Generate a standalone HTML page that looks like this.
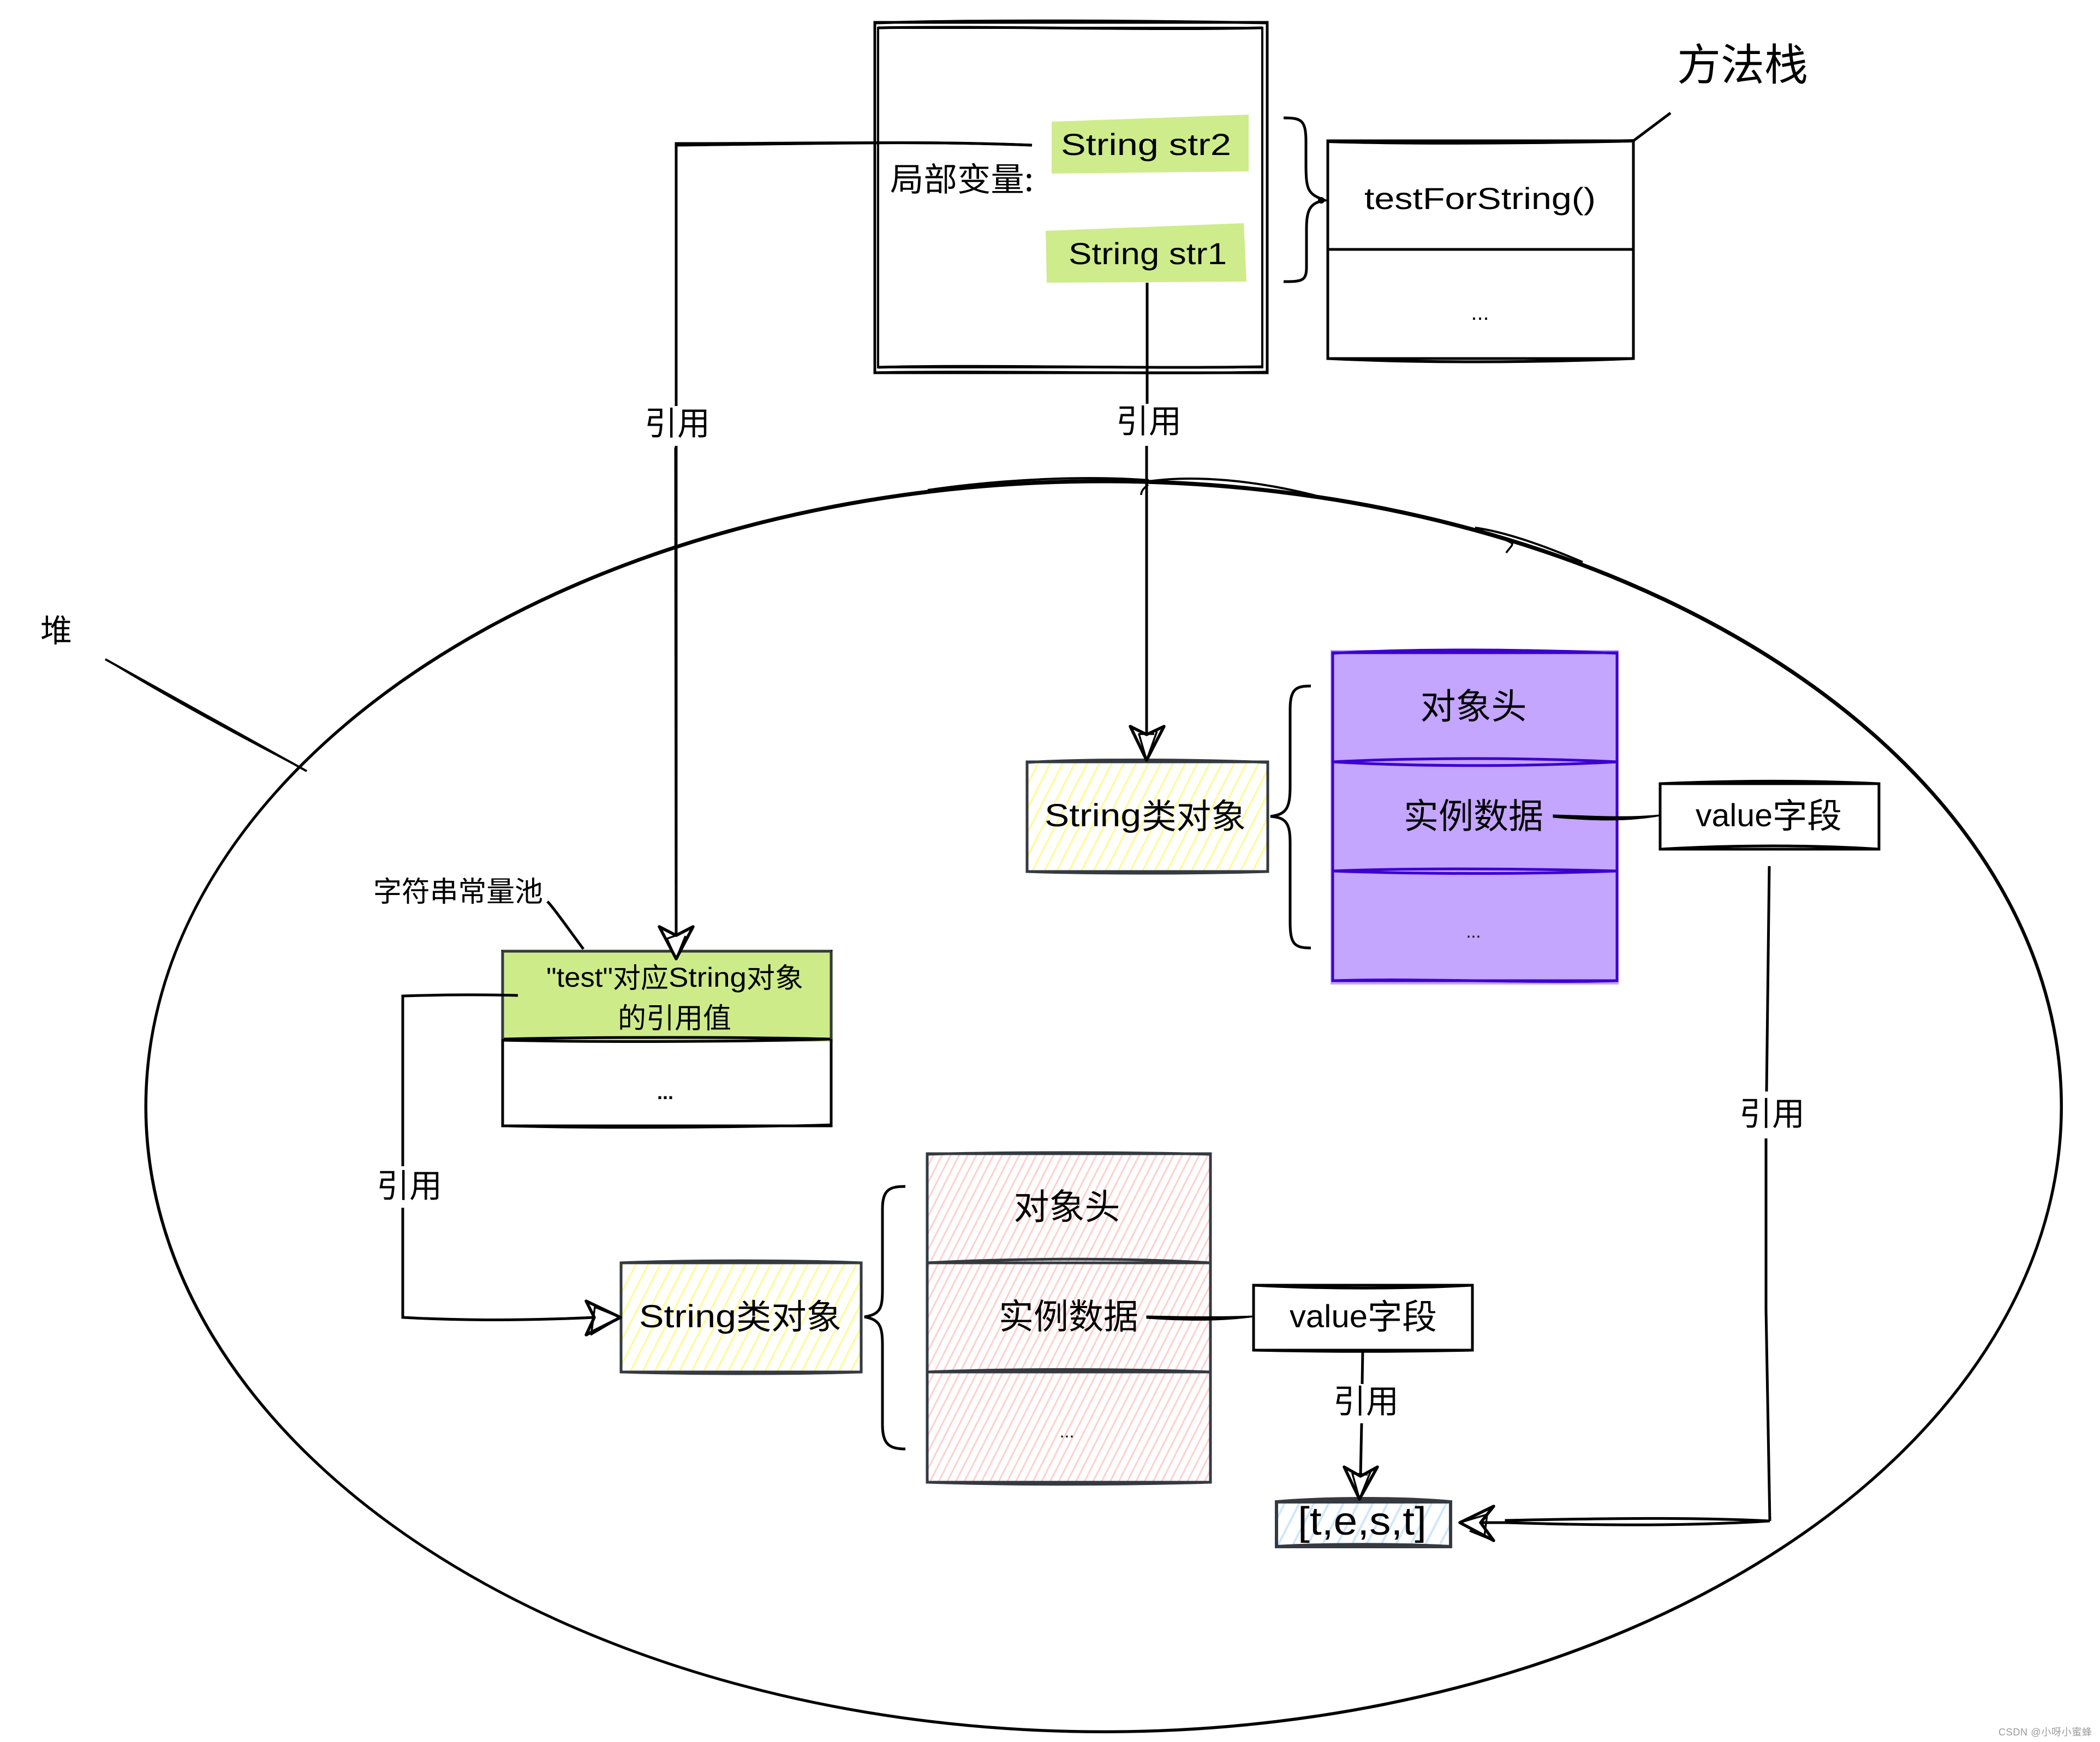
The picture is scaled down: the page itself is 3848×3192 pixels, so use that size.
<!DOCTYPE html>
<html><head><meta charset="utf-8"><style>
html,body{margin:0;padding:0;background:#fff}
svg{display:block}
.l{font-family:"Liberation Sans",sans-serif;fill:#000}
.c{font-family:"Noto Sans CJK SC","WenQuanYi Zen Hei",sans-serif;fill:#000}
</style></head><body>
<svg xmlns="http://www.w3.org/2000/svg" width="3848" height="3192" viewBox="0 0 3848 3192">
<defs>
<pattern id="hy" width="20" height="20" patternUnits="userSpaceOnUse" patternTransform="rotate(27)"><rect width="20" height="20" fill="#fff"/><line x1="10" y1="0" x2="10" y2="20" stroke="#fffa90" stroke-width="3"/></pattern>
<pattern id="hp" width="14" height="14" patternUnits="userSpaceOnUse" patternTransform="rotate(27)"><rect width="14" height="14" fill="#fff"/><line x1="7" y1="0" x2="7" y2="14" stroke="#ffcfcf" stroke-width="3"/></pattern>
<pattern id="hb" width="24" height="24" patternUnits="userSpaceOnUse" patternTransform="rotate(27)"><rect width="24" height="24" fill="#fff"/><line x1="12" y1="0" x2="12" y2="24" stroke="#cfe6fb" stroke-width="4"/></pattern>
</defs>
<rect width="3848" height="3192" fill="#fff"/>

<!-- heap ellipse -->
<g fill="none" stroke="#000">
<ellipse cx="2022" cy="2028" rx="1755" ry="1145" stroke-width="5"/>
<ellipse cx="2023" cy="2027" rx="1755" ry="1147" stroke-width="4"/>
<path d="M1700 898C1850 876 2000 872 2105 880" stroke-width="4"/>
<path d="M2105 882C2190 870 2300 880 2410 908" stroke-width="4"/>
<path d="M2703 967C2760 975 2830 1000 2900 1030" stroke-width="4"/>
<path d="M2703 967C2730 980 2760 988 2771 996C2772 1000 2765 1005 2760 1013" stroke-width="3.5"/>
<path d="M2104 888C2095 895 2091 900 2091 907" stroke-width="3.5"/>
</g>
<path d="M193 1208C300 1272 430 1340 562 1413C440 1350 310 1280 193 1208Z" fill="#000" stroke="#000" stroke-width="2"/>
<path d="M193 1208L562 1413" stroke="#000" stroke-width="4" fill="none"/>
<text class="c" x="103" y="1176" font-size="58" text-anchor="middle">堆</text>

<!-- method frame -->
<g fill="none" stroke="#000">
<rect x="1603" y="41" width="719" height="642" stroke-width="5"/>
<rect x="1609" y="51" width="704" height="622" stroke-width="4"/>
<path d="M1603 42C1800 36 2100 38 2322 42" stroke-width="5"/>
<path d="M1609 51C1800 47 2100 56 2313 51" stroke-width="5"/>
<path d="M1609 673C1800 668 2100 676 2313 672" stroke-width="5"/>
<path d="M1603 683C1800 679 2100 686 2322 682" stroke-width="5"/>
</g>
<polygon points="1927,223 2288,210 2288,314 1927,318" fill="#ceec8b"/>
<polygon points="1916,423 2279,409 2284,516 1918,518" fill="#ceec8b"/>
<text class="l" x="1944" y="284" font-size="56" textLength="312" lengthAdjust="spacingAndGlyphs">String str2</text>
<text class="l" x="1958" y="484" font-size="56" textLength="290" lengthAdjust="spacingAndGlyphs">String str1</text>
<text class="c" x="1631" y="350" font-size="60" textLength="263" lengthAdjust="spacingAndGlyphs">局部变量:</text>

<!-- method stack -->
<g fill="none" stroke="#000">
<rect x="2433" y="258" width="560" height="399" stroke-width="5"/>
<path d="M2433 457L2993 457" stroke-width="5"/>
<path d="M2433 259C2600 264 2800 262 2993 258" stroke-width="6"/>
<path d="M2433 657C2600 665 2800 665 2993 657" stroke-width="5"/>
<path d="M2352 216C2385 216 2393 220 2393 260L2393 300C2393 350 2397 355 2427 367C2400 372 2394 385 2394 420L2394 490C2394 515 2385 516 2352 516" stroke-width="5"/>
<path d="M3061 207L2993 258" stroke-width="5"/>
</g>
<circle cx="2421" cy="367" r="6"/>
<text class="l" x="2500" y="383" font-size="56" textLength="424" lengthAdjust="spacingAndGlyphs">testForString()</text>
<text class="l" x="2712" y="586" font-size="40" text-anchor="middle">...</text>
<text class="c" x="3193" y="147" font-size="80" text-anchor="middle">方法栈</text>

<!-- connectors top -->
<g fill="none" stroke="#000">
<path d="M1891 266C1700 258 1500 263 1239 263L1239 744M1239 817L1239 1714" stroke-width="5"/>
<path d="M1891 266C1700 258 1500 263 1239 266" stroke-width="5"/>
<path d="M1237 820L1238 1714" stroke-width="3"/>
<path d="M2102 518L2102 740M2101 817L2101 1346" stroke-width="5"/>
</g>
<text class="c" x="1241" y="797" font-size="60" text-anchor="middle">引用</text>
<text class="c" x="2105" y="793" font-size="60" text-anchor="middle">引用</text>

<!-- String object 1 -->
<rect x="1882" y="1396" width="441" height="201" fill="url(#hy)" stroke="#343a40" stroke-width="5"/>
<path d="M1882 1397C2000 1390 2200 1392 2323 1397M1882 1597C2000 1601 2200 1601 2323 1597" fill="none" stroke="#343a40" stroke-width="5"/>
<text class="l" x="1914" y="1514" font-size="58" textLength="177" lengthAdjust="spacingAndGlyphs">String</text>
<text class="c" x="2092" y="1518" font-size="63" textLength="191" lengthAdjust="spacingAndGlyphs">类对象</text>
<path d="M2402 1257C2375 1257 2364 1262 2364 1300L2364 1440C2364 1480 2358 1492 2328 1496C2358 1498 2364 1510 2364 1545L2364 1690C2364 1730 2372 1737 2402 1737" fill="none" stroke="#000" stroke-width="5"/>

<!-- purple -->
<rect x="2438" y="1191" width="528" height="613" fill="#c4a5ff"/>
<g fill="none" stroke="#3b00d0">
<rect x="2442" y="1196" width="521" height="601" stroke-width="5"/>
<path d="M2442 1197C2600 1188 2800 1190 2963 1197" stroke-width="5"/>
<path d="M2442 1396C2600 1388 2800 1388 2963 1396M2442 1396C2600 1405 2800 1405 2963 1396" stroke-width="5"/>
<path d="M2442 1596C2600 1590 2800 1592 2963 1596M2442 1596C2600 1602 2800 1602 2963 1596" stroke-width="5"/>
<path d="M2442 1797C2600 1792 2800 1802 2963 1797" stroke-width="5"/>
</g>
<text class="c" x="2700" y="1317" font-size="65" text-anchor="middle">对象头</text>
<text class="c" x="2700" y="1518" font-size="64" text-anchor="middle">实例数据</text>
<text class="l" x="2700" y="1718" font-size="32" text-anchor="middle">...</text>
<path d="M2847 1494C2920 1496 2980 1500 3042 1494C2980 1505 2920 1503 2847 1497Z" fill="#000" stroke="#000" stroke-width="3"/>

<rect x="3042" y="1436" width="401" height="120" fill="#fff" stroke="#000" stroke-width="5"/>
<path d="M3042 1436C3180 1430 3320 1430 3443 1436M3042 1556C3180 1548 3320 1548 3443 1556" fill="none" stroke="#000" stroke-width="5"/>
<text class="l" x="3107" y="1514" font-size="58" textLength="141" lengthAdjust="spacingAndGlyphs">value</text>
<text class="c" x="3248" y="1517" font-size="63" textLength="127" lengthAdjust="spacingAndGlyphs">字段</text>

<path d="M3242 1587L3237 2000M3236 2086L3236 2400L3243 2787" fill="none" stroke="#000" stroke-width="5"/>
<text class="c" x="3247" y="2062" font-size="60" text-anchor="middle">引用</text>
<path d="M3243 2787C3100 2780 2950 2782 2760 2786L2760 2790L2713 2790" fill="none" stroke="#000" stroke-width="5"/>
<path d="M3243 2787C3100 2796 2950 2796 2760 2790" fill="none" stroke="#000" stroke-width="5"/>

<!-- string pool -->
<text class="c" x="684" y="1652" font-size="52" textLength="311">字符串常量池</text>
<path d="M1003 1652C1012 1660 1040 1700 1069 1739" fill="none" stroke="#000" stroke-width="5"/>
<rect x="918" y="1740" width="608" height="169" fill="#ceeb8a"/>
<g fill="none" stroke="#000">
<rect x="921" y="1743" width="602" height="320" stroke-width="5"/>
<path d="M921 1904C1100 1900 1350 1900 1523 1904M921 1906C1100 1910 1350 1909 1523 1904" stroke-width="5"/>
<path d="M921 2063C1100 2068 1350 2066 1523 2061" stroke-width="4.5"/>
</g>
<path d="M921 1743L921 1904M1523 1743L1523 1904M921 1743L1523 1743" fill="none" stroke="#343a40" stroke-width="5"/>
<text class="l" x="1001" y="1808" font-size="50" textLength="122" lengthAdjust="spacingAndGlyphs">"test"</text>
<text class="c" x="1123" y="1810" font-size="51" textLength="102" lengthAdjust="spacingAndGlyphs">对应</text>
<text class="l" x="1225" y="1808" font-size="50" textLength="143" lengthAdjust="spacingAndGlyphs">String</text>
<text class="c" x="1368" y="1810" font-size="51" textLength="104" lengthAdjust="spacingAndGlyphs">对象</text>
<text class="c" x="1236" y="1884" font-size="52" text-anchor="middle">的引用值</text>
<text class="l" x="1219" y="2014" font-size="36" font-weight="bold" text-anchor="middle">...</text>

<path d="M949 1824C860 1822 800 1823 738 1825L738 2137M738 2213L738 2414C850 2420 960 2420 1089 2414" fill="none" stroke="#000" stroke-width="5"/>
<text class="c" x="750" y="2194" font-size="60" text-anchor="middle">引用</text>

<!-- String object 2 -->
<rect x="1138" y="2314" width="440" height="200" fill="url(#hy)" stroke="#343a40" stroke-width="5"/>
<path d="M1138 2314C1260 2309 1460 2309 1578 2314M1138 2514C1260 2518 1460 2518 1578 2514" fill="none" stroke="#343a40" stroke-width="5"/>
<text class="l" x="1171" y="2432" font-size="58" textLength="178" lengthAdjust="spacingAndGlyphs">String</text>
<text class="c" x="1349" y="2435" font-size="63" textLength="193" lengthAdjust="spacingAndGlyphs">类对象</text>
<path d="M1659 2174C1630 2174 1617 2180 1617 2215L1617 2360C1617 2395 1615 2408 1584 2413C1612 2418 1617 2430 1617 2465L1617 2610C1617 2645 1628 2655 1659 2655" fill="none" stroke="#000" stroke-width="5"/>

<!-- pink -->
<rect x="1699" y="2114" width="519" height="602" fill="url(#hp)" stroke="#343a40" stroke-width="5"/>
<g fill="none" stroke="#343a40" stroke-width="5">
<path d="M1699 2115C1850 2111 2050 2111 2218 2115"/>
<path d="M1699 2314C1850 2306 2050 2304 2218 2314L1699 2314"/>
<path d="M1699 2514C1850 2508 2050 2508 2218 2514L1699 2514"/>
<path d="M1699 2716C1850 2721 2050 2721 2218 2716"/>
</g>
<text class="c" x="1955" y="2234" font-size="65" text-anchor="middle">对象头</text>
<text class="c" x="1958" y="2435" font-size="64" text-anchor="middle">实例数据</text>
<text class="l" x="1955" y="2634" font-size="32" text-anchor="middle">...</text>
<path d="M2102 2412C2180 2414 2240 2414 2298 2412C2240 2420 2180 2420 2102 2415Z" fill="#000" stroke="#000" stroke-width="3"/>

<rect x="2297" y="2355" width="401" height="119" fill="#fff" stroke="#000" stroke-width="5"/>
<path d="M2297 2355C2430 2362 2570 2362 2698 2355M2297 2474C2430 2477 2570 2477 2698 2474" fill="none" stroke="#000" stroke-width="5"/>
<text class="l" x="2363" y="2432" font-size="58" textLength="143" lengthAdjust="spacingAndGlyphs">value</text>
<text class="c" x="2506" y="2435" font-size="63" textLength="127" lengthAdjust="spacingAndGlyphs">字段</text>

<path d="M2497 2474L2496 2536M2495 2608L2493 2705" fill="none" stroke="#000" stroke-width="5"/>
<text class="c" x="2503" y="2589" font-size="60" text-anchor="middle">引用</text>

<!-- test array -->
<rect x="2339" y="2752" width="319" height="82" fill="url(#hb)" stroke="#343a40" stroke-width="6"/>
<path d="M2339 2752C2430 2744 2570 2744 2658 2752M2339 2834C2430 2829 2570 2829 2658 2834" fill="none" stroke="#343a40" stroke-width="6"/>
<text class="l" x="2378" y="2812" font-size="72" textLength="236" lengthAdjust="spacingAndGlyphs">[t,e,s,t]</text>

<!-- arrowheads -->
<g fill="#fff" stroke="#000" stroke-width="5.5" stroke-linejoin="round">
<path d="M1239 1757L1208 1698L1239 1714L1270 1698Z"/>
<path d="M1239 1757L1222 1720L1245 1712M1239 1757L1256 1715" fill="none" stroke-width="3.5"/>
<path d="M2101 1393L2071 1331L2101 1346L2133 1331Z"/>
<path d="M2101 1393L2087 1345L2115 1345M2101 1393L2120 1340" fill="none" stroke-width="3.5"/>
<path d="M1137 2414L1074 2384L1089 2414L1074 2446Z"/>
<path d="M1137 2414L1090 2395L1084 2440M1137 2414L1082 2446" fill="none" stroke-width="3.5"/>
<path d="M2491 2747L2463 2688L2493 2705L2524 2688Z"/>
<path d="M2491 2747L2478 2700L2506 2702M2491 2747L2512 2695" fill="none" stroke-width="3.5"/>
<path d="M2675 2790L2737 2760L2713 2790L2737 2823Z"/>
<path d="M2675 2790L2725 2775L2720 2815M2693 2805L2737 2823" fill="none" stroke-width="3.5"/>
</g>

<text x="3662" y="3180" font-family="'Liberation Sans','Noto Sans CJK SC',sans-serif" font-size="18" fill="#9a9a9a" textLength="171">CSDN @小呀小蜜蜂</text>
</svg>
</body></html>
